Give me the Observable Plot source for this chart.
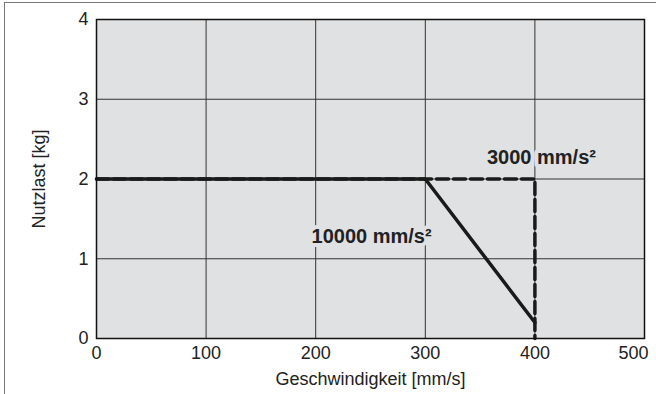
<!DOCTYPE html>
<html>
<head>
<meta charset="utf-8">
<script src="https://cdn.jsdelivr.net/npm/d3@7"></script>
<script src="https://cdn.jsdelivr.net/npm/@observablehq/plot@0.6"></script>
<style>
  html, body { margin: 0; padding: 0; background: #fff; }
  #wrap { position: relative; width: 656px; height: 394px; overflow: hidden; }
  #frame { position: absolute; left: 4px; top: 2px; right: -2px; bottom: -2px;
           border-top: 1px solid #777; border-left: 1px solid #777; pointer-events: none; }
</style>
</head>
<body>
<div id="wrap"><div id="frame"></div></div>
<script>
// Data
const xTicks = [0, 100, 200, 300, 400, 500];
const yTicks = [0, 1, 2, 3, 4];
// 10000 mm/s² curve (solid)
const fastSpeed = [0, 300, 400];
const fastLoad  = [2, 2, 0.2];
// 3000 mm/s² curve (dashed)
const slowSpeed = [0, 400, 400];
const slowLoad  = [2, 2, 0];
const labelNames = ["10000 mm/s²", "3000 mm/s²"];
const labelSpeed = [251, 406];
const labelLoad  = [1.28, 2.27];

const fast = fastSpeed.map((x, i) => ({x, y: fastLoad[i]}));
const slow = slowSpeed.map((x, i) => ({x, y: slowLoad[i]}));
const labels = labelNames.map((t, i) => ({t, x: labelSpeed[i], y: labelLoad[i]}));
const innerXTicks = xTicks.slice(0, -1);
const lastXTick = xTicks.slice(-1);

const bg = "#e0e1e2";
const chart = Plot.plot({
  width: 656,
  height: 394,
  marginLeft: 96,
  marginRight: 12,
  marginTop: 19,
  marginBottom: 56,
  style: {fontFamily: "'Liberation Sans', Arial, Helvetica, sans-serif", fontSize: "18px", color: "#222", background: "transparent"},
  x: {domain: [0, 500], ticks: xTicks},
  y: {domain: [0, 4], ticks: yTicks},
  marks: [
    Plot.frame({fill: bg}),
    Plot.gridX(xTicks, {stroke: "#333", strokeOpacity: 1, strokeWidth: 1}),
    Plot.gridY(yTicks, {stroke: "#333", strokeOpacity: 1, strokeWidth: 1}),
    Plot.axisX(innerXTicks, {tickSize: 0, tickPadding: 8, fontSize: 18, tickFormat: "d", label: "Geschwindigkeit [mm/s]", labelAnchor: "center", labelOffset: 46, labelArrow: "none"}),
    Plot.axisX(lastXTick, {tickSize: 0, tickPadding: 8, fontSize: 18, tickFormat: "d", textAnchor: "end", dx: 4, label: null}),
    Plot.axisY(yTicks, {tickSize: 0, tickPadding: 8, fontSize: 18, tickFormat: "d", label: "Nutzlast [kg]", labelAnchor: "center", labelOffset: 64, labelArrow: "none"}),
    Plot.text(labels, {x: "x", y: "y", text: "t", fontSize: 20, fontWeight: "bold", fill: "#222", stroke: bg, strokeWidth: 8, paintOrder: "stroke"}),
    Plot.line(slow, {x: "x", y: "y", stroke: "#1a1a1a", strokeWidth: 3.5, strokeDasharray: "12,5", strokeLinejoin: "miter"}),
    Plot.line(fast, {x: "x", y: "y", stroke: "#1a1a1a", strokeWidth: 3.5, strokeLinejoin: "miter"}),
    Plot.frame({stroke: "#111", strokeWidth: 1.5})
  ]
});
document.getElementById("wrap").prepend(chart);
</script>
</body>
</html>
